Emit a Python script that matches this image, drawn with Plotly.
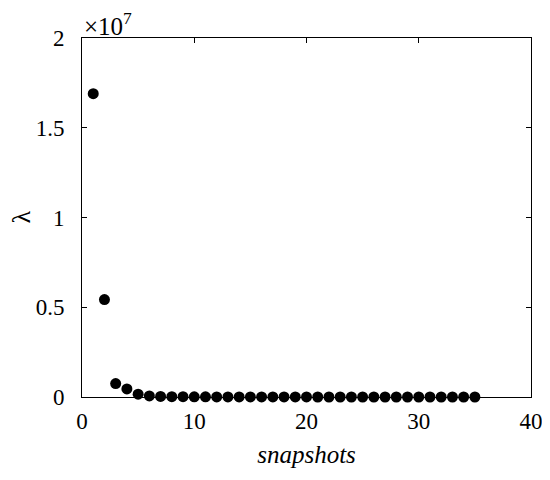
import plotly.graph_objects as go

snapshots = list(range(1, 36))
eigenvalues = [
    1.690e7, 0.543e7, 0.075e7, 0.045e7, 0.016e7, 0.006e7, 0.003e7, 0.002e7,
    0.0015e7, 0.001e7, 0.0008e7, 0.0006e7, 0.0005e7, 0.0004e7, 0.0003e7,
    0.00025e7, 0.0002e7, 0.00015e7, 0.00012e7, 0.0001e7, 0.00008e7,
    0.00006e7, 0.00005e7, 0.00004e7, 0.00003e7, 0.00002e7, 0.00002e7,
    0.00001e7, 0.00001e7, 0.00001e7, 0.000005e7, 0.000005e7, 0.000003e7,
    0.000002e7, 0.000001e7,
]
y_tickvals = [0, 0.5e7, 1e7, 1.5e7, 2e7]
y_ticktext = ["0", "0.5", "1", "1.5", "2"]
x_tickvals = [0, 10, 20, 30, 40]

FONT = "Liberation Serif"

fig = go.Figure(
    go.Scatter(
        x=snapshots, y=eigenvalues, mode="markers",
        marker=dict(color="black", size=11, line=dict(width=0)),
        cliponaxis=False,
    )
)

axis_common = dict(
    showline=True, linecolor="black", linewidth=1, mirror="ticks",
    ticks="inside", ticklen=5, tickcolor="black", tickwidth=1,
    showgrid=False, zeroline=False, automargin=False,
    tickfont=dict(family=FONT, size=23, color="black"),
)

# page body has an 8px default margin, so the figure is offset by 8px
fig.update_layout(
    width=550, height=480,
    margin=dict(l=74, r=27, t=30, b=91),
    paper_bgcolor="white", plot_bgcolor="white",
    showlegend=False,
    xaxis=dict(
        range=[0, 40], tickvals=x_tickvals, ticklabelstandoff=3,
        title=dict(text="<i>snapshots</i>", font=dict(family=FONT, size=25, color="black"), standoff=12),
        **axis_common,
    ),
    yaxis=dict(
        range=[0, 2e7], tickvals=y_tickvals, ticktext=y_ticktext, ticklabelstandoff=12,
        **axis_common,
    ),
    annotations=[
        dict(
            text="×10<sup>7</sup>", xref="paper", yref="paper", x=0, y=1,
            xanchor="left", yanchor="bottom", showarrow=False, yshift=-4,
            font=dict(family=FONT, size=25, color="black"),
        ),
        dict(
            text="λ", xref="paper", yref="paper", x=0, y=0.5,
            xanchor="center", yanchor="middle", showarrow=False,
            xshift=-61, textangle=-90,
            font=dict(family=FONT, size=26, color="black"),
        ),
    ],
)

fig.write_html("out.html")
